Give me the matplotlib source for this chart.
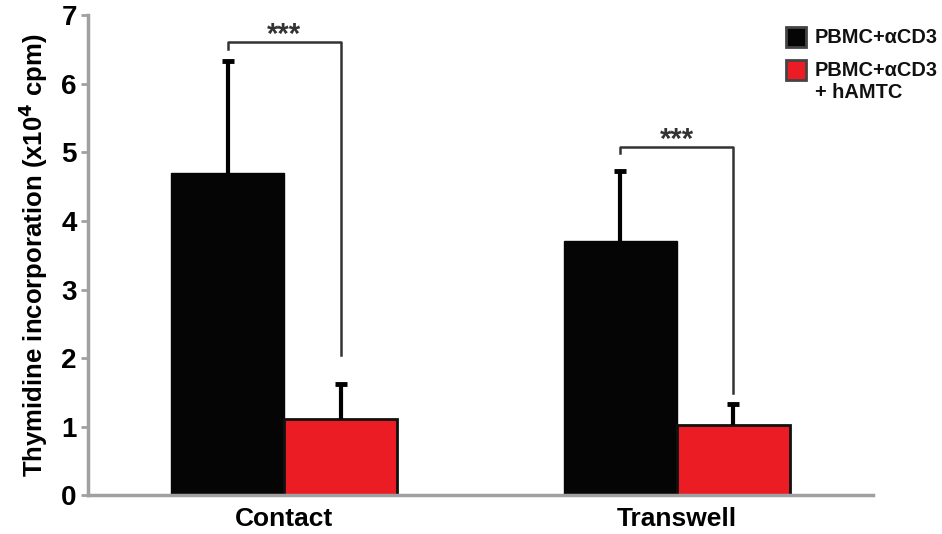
import matplotlib
matplotlib.use("Agg")
import matplotlib.pyplot as plt
from matplotlib.patches import Rectangle
import numpy as np

plt.rcParams['font.family'] = ['Liberation Sans', 'DejaVu Sans']

categories = ["Contact", "Transwell"]
series_names = ["PBMC+αCD3", "PBMC+αCD3\n+ hAMTC"]
series_colors = ["#050505", "#ec1c24"]
control_means = [4.70, 3.70]
control_err = [1.63, 1.03]
treated_means = [1.12, 1.02]
treated_err = [0.50, 0.31]
y_ticks = [0, 1, 2, 3, 4, 5, 6, 7]
significance = ["***", "***"]
bracket_tops = [6.6, 5.08]
bracket_left_ends = [6.5, 4.99]
bracket_right_ends = [2.05, 1.49]

W, H = 942, 534
fig = plt.figure(figsize=(W / 100, H / 100), dpi=100)
ax = fig.add_axes([0.0934, 0.0721, 0.8336, 0.8999])

x = np.arange(len(categories))
w = 0.2875
axis_grey = "#a0a0a0"

ax.bar(x - w / 2, control_means, width=w, color=series_colors[0],
       edgecolor=series_colors[0], linewidth=1.0, zorder=2)
ax.bar(x + w / 2, treated_means, width=w, color=series_colors[1],
       edgecolor="#111111", linewidth=2.0, zorder=2)

# upper-only error bars with a single cap at the top
for xs, means, errs in ((x - w / 2, control_means, control_err),
                        (x + w / 2, treated_means, treated_err)):
    tops = np.array(means) + np.array(errs)
    ax.vlines(xs, means, tops, color="black", linewidth=3, zorder=3)
    ax.plot(xs, tops, linestyle="none", marker="_", markersize=8,
            markeredgewidth=3.5, color="black", zorder=3)

# significance brackets
for i in range(len(categories)):
    xl, xr = x[i] - w / 2, x[i] + w / 2
    ax.plot([xl, xl, xr, xr],
            [bracket_left_ends[i], bracket_tops[i], bracket_tops[i], bracket_right_ends[i]],
            color="#333333", linewidth=1.8, zorder=1)
    ax.text((xl + xr) / 2, bracket_tops[i] - 0.10, significance[i], ha="center",
            va="bottom", fontsize=21, color="#333333", fontweight="bold")

ax.set_xlim(-0.5, 1.5)
ax.set_ylim(0, 7)
ax.set_yticks(y_ticks)
ax.set_xticks(x)
ax.set_xticklabels(categories, fontsize=19, fontweight="bold")
ax.tick_params(axis="y", labelsize=20, length=5, width=2, color=axis_grey, pad=3)
ax.tick_params(axis="x", length=0, pad=8)
for lbl in ax.get_yticklabels():
    lbl.set_fontweight("bold")

for side in ("top", "right"):
    ax.spines[side].set_visible(False)
for side in ("left", "bottom"):
    ax.spines[side].set_color(axis_grey)
    ax.spines[side].set_linewidth(2.5)

ax.set_ylabel("Thymidine incorporation (x10$^\\mathbf{4}$ cpm)", fontsize=18.5,
              fontweight="bold", labelpad=8)

# legend: square swatch aligned with the first line of each entry
key_left, key_size, text_left = 786, 20, 815
entry_tops = [27, 60]
line_step = 23
for name, color, top in zip(series_names, series_colors, entry_tops):
    fig.patches.append(Rectangle((key_left / W, 1 - (top + key_size) / H),
                                 key_size / W, key_size / H,
                                 transform=fig.transFigure, facecolor=color,
                                 edgecolor="#444444", linewidth=2))
    for j, line in enumerate(name.split("\n")):
        fig.text(text_left / W, 1 - (top + key_size / 2 + j * line_step) / H, line,
                 ha="left", va="center", fontsize=14.4, fontweight="bold",
                 color="#111111")

fig.savefig("out.png", dpi=100)
